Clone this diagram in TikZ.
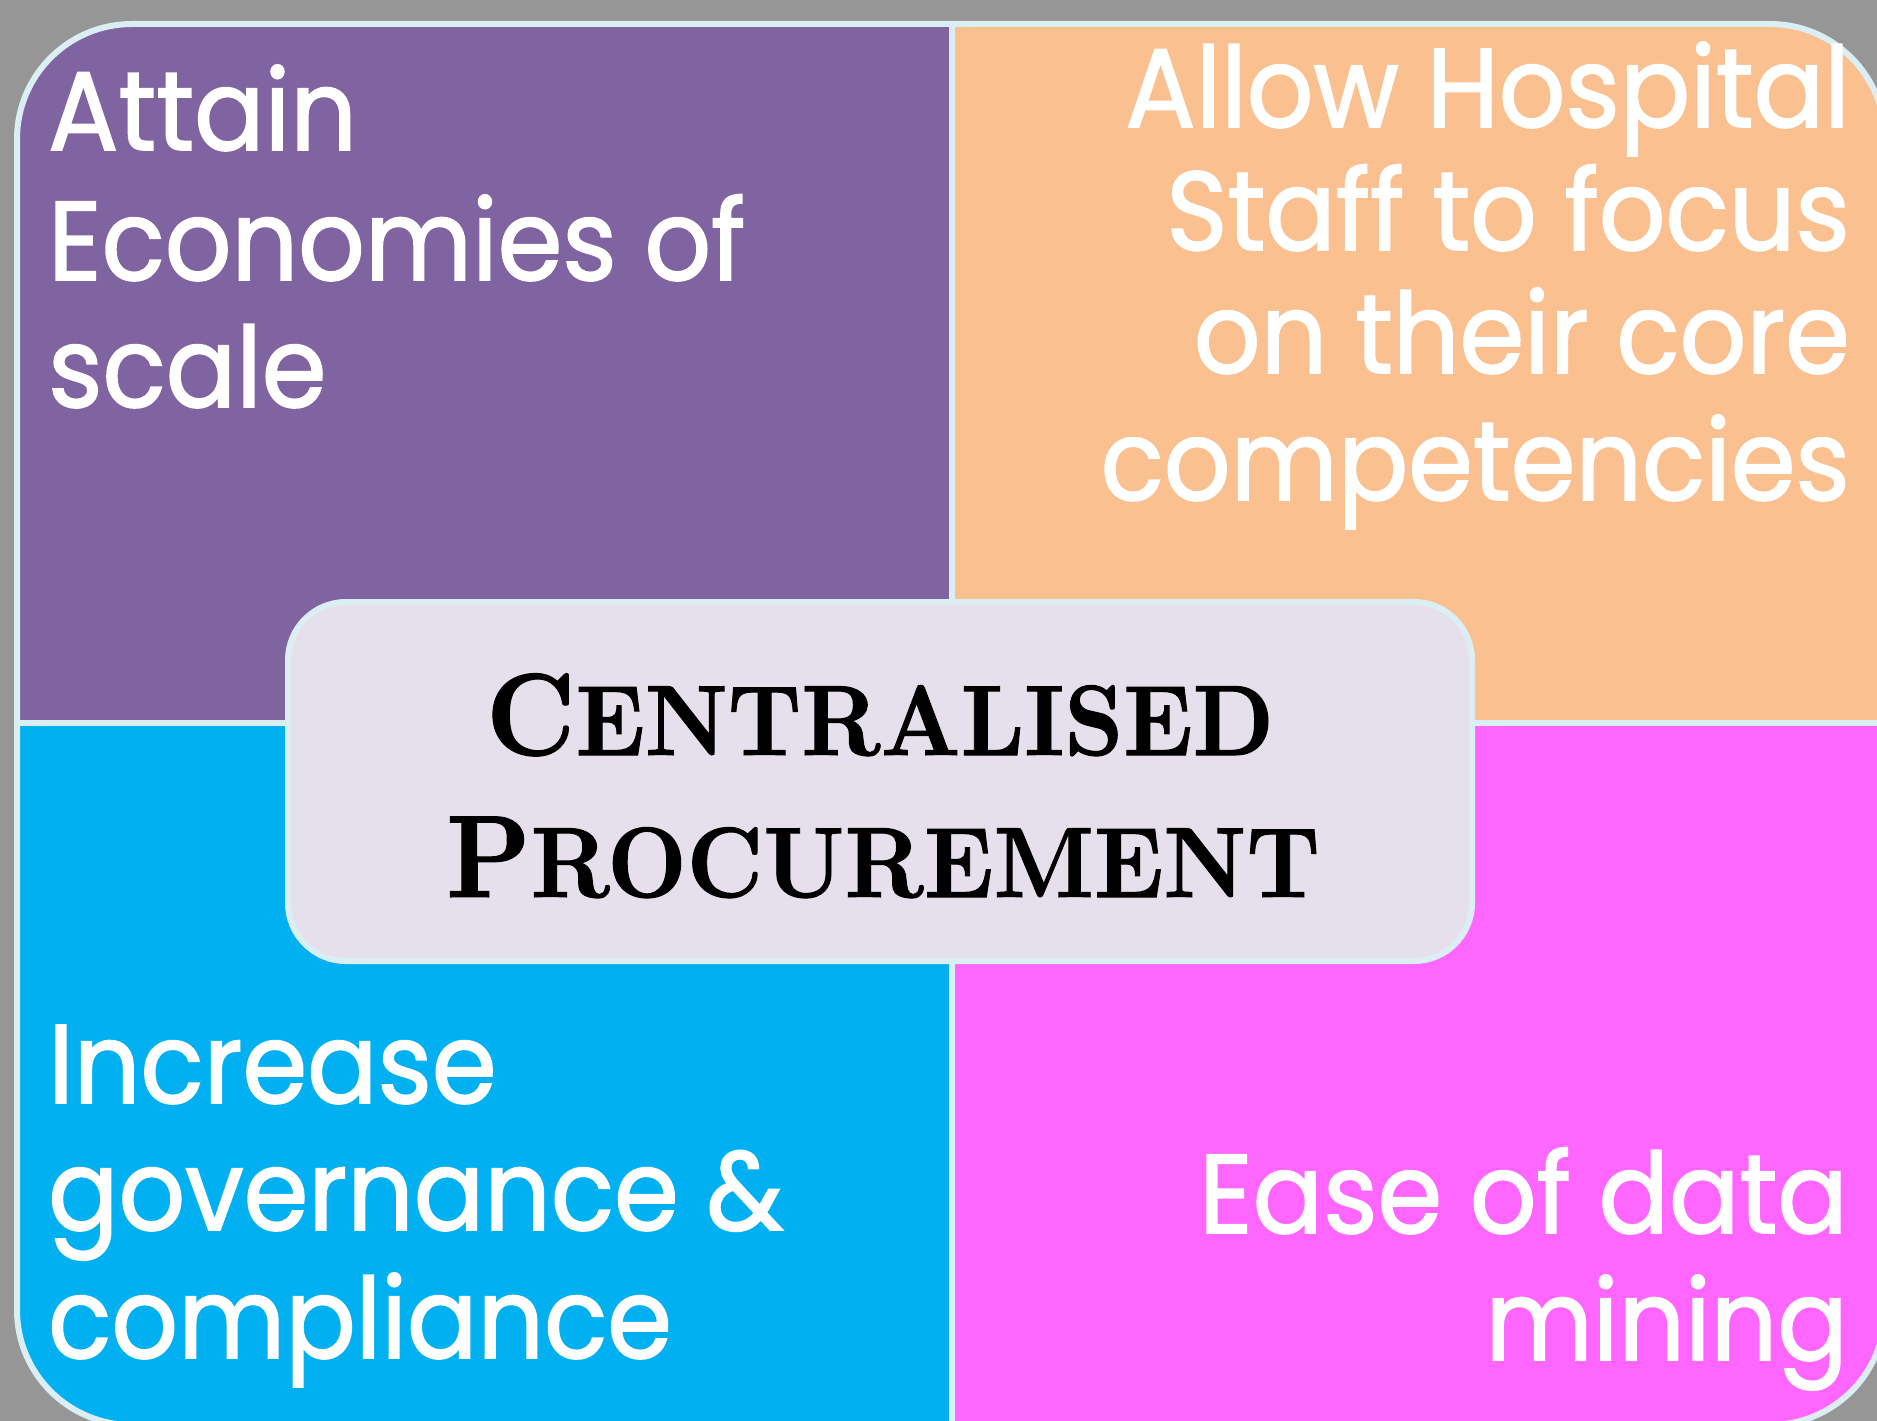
\documentclass[tikz,border=0pt]{standalone}
\usepackage{fontspec}
\usepackage{graphicx}
\newfontfamily\quadfont[FakeStretch=0.93, FakeBold=1.5]{Poppins}
\newfontfamily\copperfont[FakeBold=1]{lmroman10-bold.otf}
\definecolor{bggray}{HTML}{969696}
\definecolor{edgeblue}{HTML}{DAEEF3}
\definecolor{qpurple}{HTML}{8064A2}
\definecolor{qorange}{HTML}{FAC090}
\definecolor{qblue}{HTML}{00B0F0}
\definecolor{qmagenta}{HTML}{FF66FF}
\definecolor{centerfill}{HTML}{E6E0EC}
\newcommand\copperword[2]{\scalebox{0.92}[1]{\copperfont{\fontsize{117}{117}\selectfont #1}{\fontsize{100}{100}\selectfont #2}}}
\tikzset{
  quadtext/.style={inner sep=0pt, text=white, font=\quadfont\fontsize{112}{127}\selectfont},
  centertext/.style={inner sep=0pt, text=black},
  edgeline/.style={draw=edgeblue, line width=6pt},
}
\begin{document}
\begin{tikzpicture}[x=1pt,y=-1pt]
\useasboundingbox (0,0) rectangle (1877,1421);
\fill[bggray] (0,0) rectangle (1877,1421);
% outer rounded frame with quadrants
\begin{scope}
  \clip[rounded corners=115pt] (17,24) rectangle (1885,1425);
  \fill[qpurple] (17,24) rectangle (952,723);
  \fill[qorange] (952,24) rectangle (1885,723);
  \fill[qblue] (17,723) rectangle (952,1425);
  \fill[qmagenta] (952,723) rectangle (1885,1425);
  \draw[edgeline] (952,24) -- (952,1425);
  \draw[edgeline] (17,723) -- (1885,723);
\end{scope}
\draw[edgeline, rounded corners=115pt] (17,24) rectangle (1885,1425);
% centre box
\node[draw=edgeblue, line width=6pt, fill=centerfill, rounded corners=58pt,
      minimum width=1184pt, minimum height=359pt, inner sep=0pt] (centre) at (880,781.5) {};
\node[centertext, anchor=base] (c1) at (880,755) {\copperword{C}{ENTRALISED}};
\node[centertext, anchor=base] (c2) at (883,897) {\copperword{P}{ROCUREMENT}};
% top left
\node[quadtext, anchor=base west] (tl1) at (48,150) {Attain};
\node[quadtext, anchor=base west] (tl2) at (48,280) {Economies of};
\node[quadtext, anchor=base west] (tl3) at (48,407) {scale};
% top right
\node[quadtext, anchor=base east] (tr1) at (1850,127) {Allow Hospital};
\node[quadtext, anchor=base east] (tr2) at (1850,250) {Staff to focus};
\node[quadtext, anchor=base east] (tr3) at (1850,373) {on their core};
\node[quadtext, anchor=base east] (tr4) at (1850,500) {competencies};
% bottom left
\node[quadtext, anchor=base west] (bl1) at (48,1103) {Increase};
\node[quadtext, anchor=base west] (bl2) at (48,1230) {governance \&};
\node[quadtext, anchor=base west] (bl3) at (48,1358) {compliance};
% bottom right
\node[quadtext, anchor=base east] (br1) at (1848,1233) {Ease of data};
\node[quadtext, anchor=base east] (br2) at (1848,1360) {mining};
\end{tikzpicture}
\end{document}
